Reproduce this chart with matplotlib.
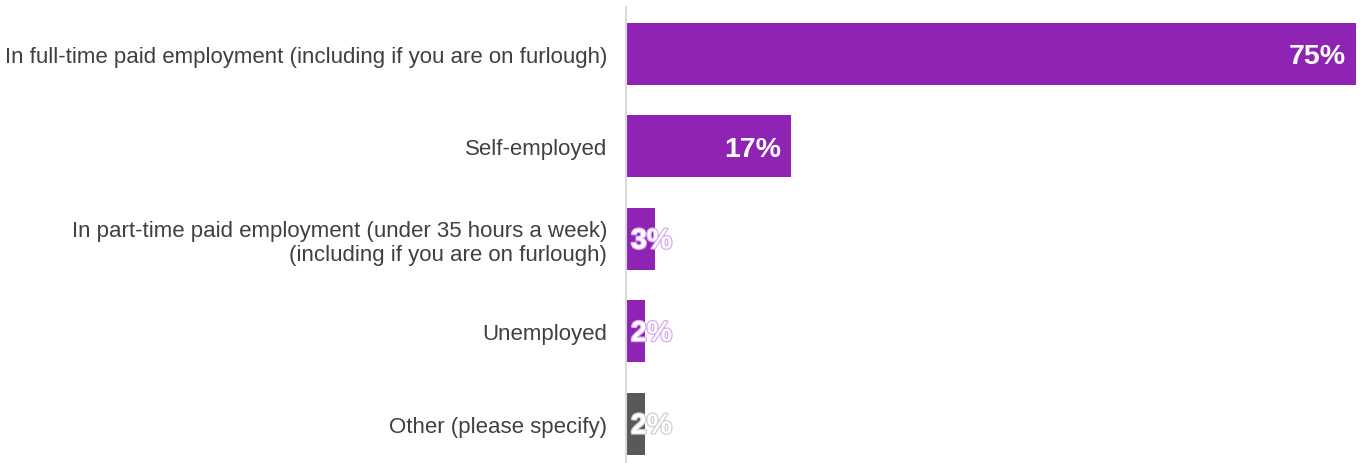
import matplotlib.pyplot as plt
import matplotlib.patheffects as pe

plt.rcParams['font.family'] = ['Liberation Sans', 'DejaVu Sans']

categories = [
    "In full-time paid employment (including if you are on furlough)",
    "Self-employed",
    "In part-time paid employment (under 35 hours a week)\n(including if you are on furlough)",
    "Unemployed",
    "Other (please specify)",
]
values = [75, 17, 3, 2, 2]
colors = ["#8e23b4", "#8e23b4", "#8e23b4", "#8e23b4", "#595959"]
halo = ["#dcaaf0", "#dcaaf0", "#dcaaf0", "#dcaaf0", "#d0d0d0"]

fig = plt.figure(figsize=(13.6, 4.64), dpi=100)
ax = fig.add_axes([626 / 1360, 0, 730 / 1360, 456 / 464])

ypos = list(range(len(values)))
ax.barh(ypos, values, height=0.67, color=colors)
ax.set_xlim(0, 75)
ax.set_ylim(4.425, -0.505)

ax.set_yticks(ypos)
ax.set_yticklabels(categories, fontsize=16, color="#404040", linespacing=1.2)
ax.tick_params(axis="y", length=0, pad=13.5)
ax.set_xticks([])
for side in ["top", "right", "bottom"]:
    ax.spines[side].set_visible(False)
ax.spines["left"].set_color("#d9d9d9")
ax.spines["left"].set_linewidth(1.5)

for y, v, hc in zip(ypos, values, halo):
    effects = [pe.withStroke(linewidth=1.8, foreground=hc)] if v < 5 else []
    ax.annotate(f"{v}%", xy=(max(v, 5.75), y), xytext=(-7, -2),
                textcoords="offset points", ha="right", va="center",
                fontsize=20.5, fontweight="bold", color="white",
                path_effects=effects)

fig.savefig("out.png", dpi=100)
